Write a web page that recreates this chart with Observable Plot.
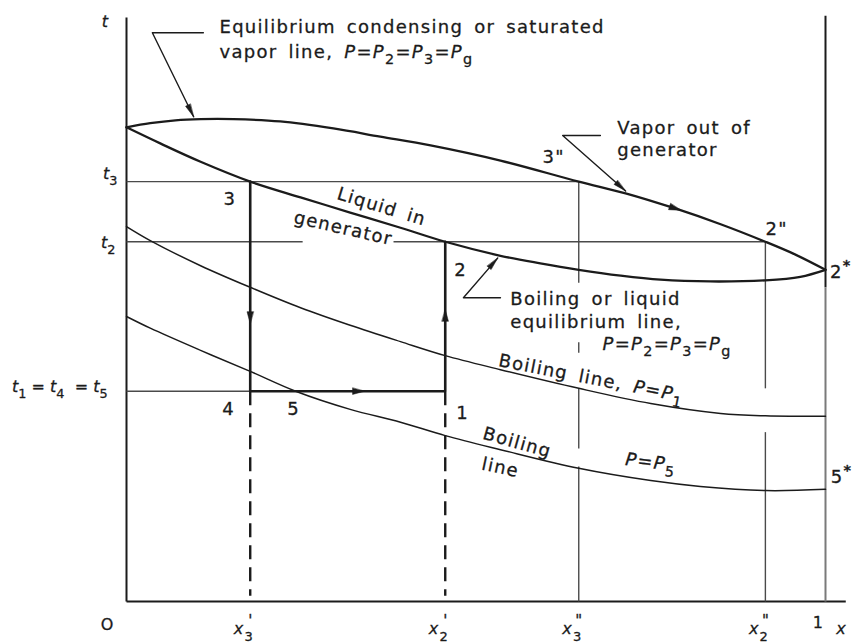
<!DOCTYPE html>
<html>
<head>
<meta charset="utf-8">
<script src="https://cdn.jsdelivr.net/npm/d3@7"></script>
<script src="https://cdn.jsdelivr.net/npm/@observablehq/plot@0.6"></script>
<style>
  html, body { margin: 0; padding: 0; background: #fff; overflow: hidden; }
  #chart svg { display: block; }
  #chart g.tight text { letter-spacing: 0; word-spacing: 0; }
</style>
</head>
<body>
<div id="chart"></div>
<script>
// Temperature–composition (t–x) diagram of a generator / absorber cycle.

// Key compositions (x) and temperature levels (t)
const x3p = 0.177, x2p = 0.456, x3pp = 0.647, x2pp = 0.914;
const t1 = 36.0, t2 = 61.6, t3 = 71.9;

// Equilibrium condensing or saturated vapor line, P = P2 = P3 = Pg  [x, t]
const dewLine = [
  [0, 81.2], [0.034, 81.9], [0.070, 82.4], [0.106, 82.6], [0.153, 82.6],
  [0.220, 82.2], [0.296, 81.0], [0.363, 79.6], [0.435, 78.1], [0.535, 75.5],
  [0.647, 71.9], [0.714, 69.9], [0.785, 67.3], [0.850, 64.6], [0.914, 61.6],
  [0.957, 59.4], [1, 56.8]
];

// Boiling or liquid equilibrium line, same pressure
const bubbleLine = [
  [0, 81.2], [0.049, 78.4], [0.106, 75.3], [0.177, 71.9], [0.249, 69.2],
  [0.320, 66.6], [0.392, 64.0], [0.456, 61.6], [0.535, 59.2], [0.592, 57.9],
  [0.647, 56.8], [0.707, 55.8], [0.764, 55.1], [0.835, 54.8], [0.914, 55.0],
  [0.964, 55.6], [1, 56.8]
];

// Boiling line at P = P1
const boilingP1 = [
  [0, 64.2], [0.034, 61.8], [0.106, 57.5], [0.177, 53.8], [0.249, 50.3],
  [0.320, 47.3], [0.392, 44.5], [0.456, 42.1], [0.535, 39.7], [0.647, 36.5],
  [0.750, 33.9], [0.850, 32.2], [0.914, 31.8], [1, 31.7]
];

// Boiling line at P = P5
const boilingP5 = [
  [0, 48.8], [0.034, 46.8], [0.106, 43.0], [0.177, 39.4], [0.242, 36.0],
  [0.320, 32.9], [0.392, 30.7], [0.456, 28.4], [0.535, 26.0], [0.647, 22.8],
  [0.750, 20.7], [0.821, 19.7], [0.914, 19.0], [1, 19.2]
];

// Process path 3 -> 4 -> 1 -> 2
const processPath = [[x3p, t3], [x3p, t1], [x2p, t1], [x2p, t2]];

// Dashed drops from states 4 and 1 to the composition axis  [x1, t1, x2, t2]
const dashedDrops = [[x3p, t1, x3p, 1.0], [x2p, t1, x2p, 1.0]];

// Thin construction lines (broken where labels sit)
const guides = [
  [0, t3, x3pp, t3],
  [0, t2, 0.252, t2],
  [0.382, t2, x2pp, t2],
  [0, t1, x3p, t1],
  [x3pp, t3, x3pp, 54.6],
  [x3pp, 44.4, x3pp, 42.6],
  [x3pp, 36.5, x3pp, 26.2],
  [x3pp, 23.1, x3pp, 0],
  [x2pp, t2, x2pp, 36.5],
  [x2pp, 29.0, x2pp, 0]
];

// Frame: t axis, x axis, and the pure-component line x = 1
const frameLines = [[0, 0, 0, 100], [0, 0, 1.029, 0], [1, 100.3, 1, 53.8]];
const frameFaint = [[1, 53.8, 1, 0]];

// Direction marks along the lines (angle: clockwise from up, degrees)
const flowMarks = [
  {x: 0.785, t: 67.3, angle: 108},
  {x: x3p, t: 48.6, angle: 180},
  {x: x2p, t: 49.0, angle: 0},
  {x: 0.332, t: t1, angle: 90}
];

// Leader lines from notes to curves; the last point is the arrow tip
const leaders = [
  {id: "vapor", angle: 154, pts: [[0.110, 97.4], [0.037, 97.4], [0.096, 83.0]]},
  {id: "out", angle: 131, pts: [[0.678, 79.8], [0.624, 79.8], [0.714, 70.3]]},
  {id: "boil", angle: 41, pts: [[0.535, 52.0], [0.482, 52.0], [0.531, 58.8]]}
];
const leaderRows = leaders.flatMap(l => l.pts.map(([x, t]) => ({id: l.id, x, t})));
const leaderTips = leaders.map(l => ({x: l.pts[2][0], t: l.pts[2][1], angle: l.angle}));

// Notes (left-aligned, baseline at t)
const notes = [
  {x: 0.133, t: 97.4, text: "Equilibrium condensing or saturated"},
  {x: 0.133, t: 93.15, text: "vapor line, <i>P</i>=<i>P</i><sub>2</sub>=<i>P</i><sub>3</sub>=<i>P</i><sub>g</sub>"},
  {x: 0.702, t: 80.0, text: "Vapor out of"},
  {x: 0.702, t: 76.2, text: "generator"},
  {x: 0.549, t: 50.7, text: "Boiling or liquid"},
  {x: 0.549, t: 46.9, text: "equilibrium line,"},
  {x: 0.681, t: 43.0, text: "<i>P</i>=<i>P</i><sub>2</sub>=<i>P</i><sub>3</sub>=<i>P</i><sub>g</sub>"}
];

// Notes written along the curves (centered)
const slantNotes = [
  {x: 0.365, t: 67.6, angle: 17, text: "Liquid in"},
  {x: 0.310, t: 63.9, angle: 13, text: "generator"},
  {x: 0.665, t: 38.2, angle: 11, text: "Boiling line, <i>P</i>=<i>P</i><sub>1</sub>"},
  {x: 0.559, t: 27.2, angle: 16, text: "Boiling"},
  {x: 0.535, t: 22.9, angle: 12, text: "line"},
  {x: 0.750, t: 23.8, angle: 7, text: "<i>P</i>=<i>P</i><sub>5</sub>"}
];

// State point labels (centered)
const stateLabels = [
  {x: 0.148, t: 68.8, text: "3"},
  {x: 0.478, t: 56.8, text: "2"},
  {x: 0.146, t: 33.0, text: "4"},
  {x: 0.239, t: 33.0, text: "5"},
  {x: 0.481, t: 32.2, text: "1"},
  {x: 0.611, t: 76.0, text: "3\""},
  {x: 0.930, t: 63.7, text: "2\""},
  {x: 1.022, t: 56.3, text: "2<sup>*</sup>"},
  {x: 1.023, t: 21.2, text: "5<sup>*</sup>"}
];

// Temperature labels on the t axis (right-aligned, baseline at t)
const tLabels = [
  {x: -0.013, t: 72.4, text: "<i>t</i><sub>3</sub>"},
  {x: -0.016, t: 60.6, text: "<i>t</i><sub>2</sub>"},
  {x: -0.027, t: 35.9, text: "<i>t</i><sub>1</sub> = <i>t</i><sub>4</sub>  = <i>t</i><sub>5</sub>"}
];

// Composition tick labels
const xTicks = [
  {x: x3p, sub: "3", prime: "'"},
  {x: x2p, sub: "2", prime: "'"},
  {x: x3pp, sub: "3", prime: "\""},
  {x: x2pp, sub: "2", prime: "\""}
];
const axisEnds = [
  {x: -0.027, t: -4.9, text: "O"},
  {x: 0.990, t: -4.6, text: "1"}
];

const X = d => d[0], T = d => d[1];
const ink = "#1b1b1b", pencil = "#4a4a4a";
const textInk = {fill: ink, stroke: ink, strokeWidth: 0.3};

// Narrow filled arrowhead pointing along the vector direction
const head = {
  draw(context, l, r) {
    context.moveTo(0, -l);
    context.lineTo(r, 0);
    context.lineTo(-r, 0);
    context.closePath();
  }
};

const chart = Plot.plot({
  width: 856,
  height: 644,
  margin: 0,
  style: {fontFamily: "'DejaVu Sans', sans-serif", fontSize: "18px", letterSpacing: "1.3px", wordSpacing: "4px", background: "#fff"},
  x: {domain: [0, 1], range: [126, 825], axis: null},
  y: {domain: [0, 100], range: [601, 17], axis: null},
  marks: [
    // frame
    Plot.link(frameLines, {x1: d => d[0], y1: d => d[1], x2: d => d[2], y2: d => d[3], stroke: ink, strokeWidth: 2}),
    Plot.link(frameFaint, {x1: d => d[0], y1: d => d[1], x2: d => d[2], y2: d => d[3], stroke: "#7a7a7a", strokeWidth: 2}),
    // construction lines
    Plot.link(guides, {x1: d => d[0], y1: d => d[1], x2: d => d[2], y2: d => d[3], stroke: pencil, strokeWidth: 1.4}),
    Plot.link(dashedDrops, {x1: d => d[0], y1: d => d[1], x2: d => d[2], y2: d => d[3], stroke: ink, strokeWidth: 2.4, strokeDasharray: "14,8"}),
    // boiling lines at lower pressures
    Plot.line(boilingP1, {x: X, y: T, curve: "catmull-rom", stroke: ink, strokeWidth: 1.5}),
    Plot.line(boilingP5, {x: X, y: T, curve: "catmull-rom", stroke: ink, strokeWidth: 1.5}),
    // generator equilibrium lens
    Plot.line(dewLine, {x: X, y: T, curve: "catmull-rom", stroke: ink, strokeWidth: 2.3}),
    Plot.line(bubbleLine, {x: X, y: T, curve: "catmull-rom", stroke: ink, strokeWidth: 2.3}),
    // process path
    Plot.line(processPath, {x: X, y: T, stroke: ink, strokeWidth: 2.6, strokeLinejoin: "miter"}),
    // leaders
    Plot.line(leaderRows, {x: "x", y: "t", z: "id", stroke: ink, strokeWidth: 1.4}),
    Plot.vector(leaderTips, {x: "x", y: "t", rotate: "angle", length: 13, r: 2.6, anchor: "end", shape: head, fill: ink, stroke: ink, strokeWidth: 0.5}),
    Plot.vector(flowMarks, {x: "x", y: "t", rotate: "angle", length: 12, r: 3.2, anchor: "middle", shape: head, fill: ink, stroke: ink, strokeWidth: 0.5}),
    // texts
    Plot.text(notes, {x: "x", y: "t", text: "text", textAnchor: "start", lineAnchor: "bottom", ...textInk}),
    Plot.text(slantNotes, {x: "x", y: "t", text: "text", rotate: "angle", textAnchor: "middle", lineAnchor: "middle", ...textInk}),
    Plot.text(stateLabels, {x: "x", y: "t", text: "text", textAnchor: "middle", lineAnchor: "middle", ...textInk}),
    Plot.text(tLabels, {x: "x", y: "t", text: "text", textAnchor: "end", lineAnchor: "bottom", fontSize: 16, className: "tight", ...textInk}),
    Plot.text(["t"], {x: -0.030, y: 99.3, text: d => d, fontStyle: "italic", fontSize: 16, lineAnchor: "middle", ...textInk}),
    Plot.text(xTicks, {x: "x", y: 0, text: () => "x", dx: -11, dy: 32, fontStyle: "italic", fontSize: 16, lineAnchor: "bottom", ...textInk}),
    Plot.text(xTicks, {x: "x", y: 0, text: "sub", dx: -1, dy: 39, fontSize: 13, lineAnchor: "bottom", ...textInk}),
    Plot.text(xTicks, {x: "x", y: 0, text: "prime", dx: 0, dy: 24, fontSize: 15, lineAnchor: "bottom", className: "tight", ...textInk}),
    Plot.text(axisEnds, {x: "x", y: "t", text: "text", fontSize: 16, lineAnchor: "bottom", ...textInk}),
    Plot.text(["x"], {x: 1.023, y: -5.5, text: d => d, fontStyle: "italic", fontSize: 16, lineAnchor: "bottom", ...textInk})
  ]
});

// Turn the small <i>/<sub>/<sup> markup in labels into tspans
function applyMarkup(svg) {
  const ns = "http://www.w3.org/2000/svg";
  for (const el of svg.querySelectorAll("text")) {
    const src = el.textContent;
    if (!src.includes("<")) continue;
    el.textContent = "";
    const re = /<(i|sub|sup)>(.*?)<\/\1>|([^<]+)/g;
    let shift = 0, m;
    while ((m = re.exec(src))) {
      const tag = m[1], body = tag ? m[2] : m[3];
      const span = document.createElementNS(ns, "tspan");
      let want = 0;
      if (tag === "sub") { want = 6; span.setAttribute("font-size", "80%"); }
      if (tag === "sup") { want = -8; span.setAttribute("font-size", "80%"); span.setAttribute("font-weight", "bold"); }
      if (tag === "i") span.setAttribute("font-style", "italic");
      if (want !== shift) { span.setAttribute("dy", want - shift); shift = want; }
      span.textContent = body;
      el.appendChild(span);
    }
  }
}
applyMarkup(chart);
document.getElementById("chart").append(chart);
</script>
</body>
</html>
